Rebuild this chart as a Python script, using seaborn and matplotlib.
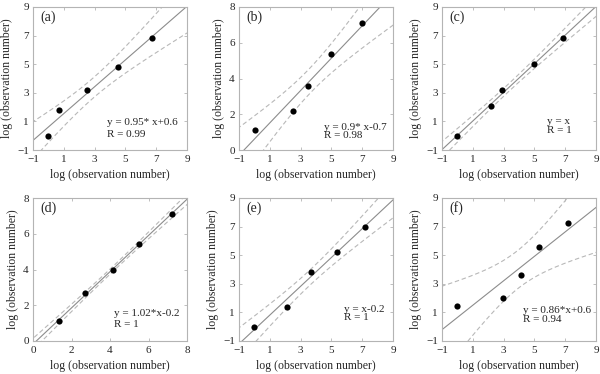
import numpy as np
import pandas as pd
import seaborn as sns
from matplotlib import pyplot as plt

# values (log of observation number)
panel_names = ['(a)', '(b)', '(c)', '(d)', '(e)', '(f)']
x_a = [0.0, 0.7, 2.5, 4.55, 6.7]
y_a = [0.0, 1.8, 3.2, 4.8, 6.8]
x_b = [0.05, 2.5, 3.45, 5.0, 7.0]
y_b = [1.1, 2.2, 3.6, 5.35, 7.1]
x_c = [0.0, 2.2, 2.9, 5.0, 6.85]
y_c = [0.0, 2.05, 3.2, 5.0, 6.85]
x_d = [1.35, 2.7, 4.15, 5.5, 7.2]
y_d = [1.1, 2.7, 4.0, 5.4, 7.1]
x_e = [0.0, 2.1, 3.65, 5.35, 7.15]
y_e = [0.0, 1.4, 3.8, 5.25, 6.95]
x_f = [0.0, 2.95, 4.1, 5.3, 7.15]
y_f = [1.45, 2.0, 3.65, 5.55, 7.25]
equations = ['y = 0.95* x+0.6', 'y = 0.9* x-0.7', 'y = x',
             'y = 1.02*x-0.2', 'y = x-0.2', 'y = 0.86*x+0.6']
r_values = ['R = 0.99', 'R = 0.98', 'R = 1', 'R = 1', 'R = 1', 'R = 0.94']
xlims = [(-1, 9), (-1, 9), (-1, 9), (0, 8), (-1, 9), (-1, 9)]
ylims = [(-1, 9), (0, 8), (-1, 9), (0, 8), (-1, 9), (-1, 9)]

xs = [x_a, x_b, x_c, x_d, x_e, x_f]
ys = [y_a, y_b, y_c, y_d, y_e, y_f]

sns.set_style("ticks")
plt.rcParams['font.family'] = ['Liberation Serif', 'DejaVu Serif']

fig = plt.figure(figsize=(6, 3.74), dpi=100)
lefts = [33, 239, 442]
tops = [7, 198]
w, h = 154, 143
# where the equation text sits in each panel (axes fraction)
txt_pos = [(0.48, 0.19, 0.105), (0.55, 0.157, 0.10), (0.685, 0.198, 0.135),
           (0.526, 0.193, 0.112), (0.681, 0.218, 0.162), (0.528, 0.21, 0.152)]

t_crit = 3.182  # t(0.975, n-2 = 3)
spine_col = '#b4b4b4'

for i in range(6):
    row, col = divmod(i, 3)
    ax = fig.add_axes([lefts[col] / 600, 1 - (tops[row] + h) / 374, w / 600, h / 374])
    x = np.array(xs[i])
    y = np.array(ys[i])
    slope, icpt = np.polyfit(x, y, 1)
    n = len(x)
    s = np.sqrt(np.sum((y - (slope * x + icpt)) ** 2) / (n - 2))
    sxx = np.sum((x - x.mean()) ** 2)
    xx = np.linspace(xlims[i][0] - 0.5, xlims[i][1] + 0.5, 200)
    yy = slope * xx + icpt
    hw = t_crit * s * np.sqrt(1 / n + (xx - x.mean()) ** 2 / sxx)
    fit = pd.DataFrame({'x': xx, 'fit': yy, 'lo': yy - hw, 'hi': yy + hw})

    sns.lineplot(data=fit, x='x', y='fit', ax=ax, color='#8c8c8c', lw=0.8)
    for b in ['lo', 'hi']:
        sns.lineplot(data=fit, x='x', y=b, ax=ax, color='#b8b8b8', lw=0.8,
                     dashes=False, linestyle=(0, (4, 2.5)))
    sns.scatterplot(x=x, y=y, ax=ax, color='black', s=20, edgecolor='black',
                    linewidth=0, zorder=5)

    ax.set_xlim(xlims[i])
    ax.set_ylim(ylims[i])
    if xlims[i][0] == -1:
        ax.set_xticks([-1, 1, 3, 5, 7, 9])
    else:
        ax.set_xticks([0, 2, 4, 6, 8])
    if ylims[i][0] == -1:
        ax.set_yticks([-1, 1, 3, 5, 7, 9])
    else:
        ax.set_yticks([0, 2, 4, 6, 8])
    ax.tick_params(direction='in', length=2.5, width=0.6, color=spine_col,
                   labelsize=8, top=True, right=True)
    ax.tick_params(axis='x', pad=3.5)
    ax.tick_params(axis='y', pad=3)
    for sp in ax.spines.values():
        sp.set_visible(True)
        sp.set_color(spine_col)
        sp.set_linewidth(0.8)
    ax.set_xlabel('log (observation number)', fontsize=8.5, labelpad=4)
    ax.set_ylabel('log (observation number)', fontsize=8.5, labelpad=3)

    ax.text(0.05, 0.93, panel_names[i], transform=ax.transAxes, fontsize=10,
            va='center', ha='left')
    tx, ty1, ty2 = txt_pos[i]
    ax.text(tx, ty1, equations[i], transform=ax.transAxes, fontsize=8,
            va='center', ha='left')
    ax.text(tx, ty2, r_values[i], transform=ax.transAxes, fontsize=8,
            va='center', ha='left')

fig.savefig('out.png', dpi=100)
